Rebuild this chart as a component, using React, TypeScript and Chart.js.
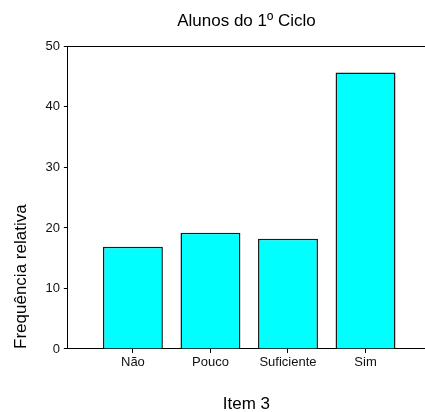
import React, { useEffect, useRef } from "react";
import { Chart, registerables } from "chart.js";

Chart.register(...registerables);

const categories: string[] = ["Não", "Pouco", "Suficiente", "Sim"];
const frequencies: number[] = [16.9, 19.2, 18.2, 45.7];
const yMin = 0;
const yMax = 50;
const yStep = 10;

const FONT = "'Liberation Sans', Arial, Helvetica, sans-serif";

const topLinePlugin = {
  id: "topLine",
  afterDraw(chart: any) {
    const { ctx, chartArea } = chart;
    ctx.save();
    ctx.strokeStyle = "#000";
    ctx.lineWidth = 1;
    ctx.beginPath();
    ctx.moveTo(chartArea.left, Math.round(chartArea.top) + 0.5);
    ctx.lineTo(chartArea.right, Math.round(chartArea.top) + 0.5);
    ctx.stroke();
    ctx.restore();
  },
};

export default function App() {
  const ref = useRef<HTMLCanvasElement | null>(null);

  useEffect(() => {
    document.body.style.margin = "0";
    if (!ref.current) return;
    const chart = new Chart(ref.current, {
      type: "bar",
      data: {
        datasets: [
          {
            data: frequencies.map((v, i) => ({ x: i + 1, y: v })),
            backgroundColor: "#00FFFF",
            borderColor: "#1a1a1a",
            borderWidth: 1.5,
            categoryPercentage: 1,
            barPercentage: 0.773,
          } as any,
        ],
      },
      options: {
        responsive: false,
        animation: false,
        devicePixelRatio: 1,
        layout: { padding: 0 },
        plugins: {
          legend: { display: false },
          tooltip: { enabled: false },
          title: {
            display: true,
            text: "Alunos do 1º Ciclo",
            color: "#000",
            fullSize: false,
            font: { family: FONT, size: 17, weight: "normal", lineHeight: 1.2 },
            padding: { top: 11, bottom: 15 },
          },
        },
        scales: {
          x: {
            type: "linear",
            offset: false,
            min: 0.161,
            max: 4.767,
            afterBuildTicks: (scale: any) => {
              scale.ticks = categories.map((_, i) => ({ value: i + 1 }));
            },
            ticks: {
              autoSkip: false,
              maxRotation: 0,
              padding: 2,
              color: "#111",
              font: { family: FONT, size: 13 },
              callback: (v: any) => categories[Math.round(Number(v)) - 1] ?? "",
            },
            grid: {
              display: true,
              offset: false,
              drawOnChartArea: false,
              drawTicks: true,
              tickLength: 4,
              color: "#000",
            },
            border: { display: true, color: "#000", width: 1 },
            title: {
              display: true,
              text: "Item 3",
              color: "#000",
              font: { family: FONT, size: 17, lineHeight: 0.85 },
              padding: { top: 25, bottom: 0 },
            },
          },
          y: {
            type: "linear",
            min: yMin,
            max: yMax,
            ticks: {
              stepSize: yStep,
              padding: 4,
              color: "#111",
              font: { family: FONT, size: 13 },
            },
            grid: {
              display: true,
              drawOnChartArea: false,
              drawTicks: true,
              tickLength: 4,
              color: "#000",
            },
            border: { display: true, color: "#000", width: 1 },
            title: {
              display: true,
              text: "Frequência relativa",
              align: "start",
              color: "#000",
              font: { family: FONT, size: 17, lineHeight: 1.2 },
              padding: { top: 11, bottom: 10 },
            },
          },
        },
      } as any,
      plugins: [topLinePlugin],
    });
    return () => chart.destroy();
  }, []);

  return (
    <div style={{ width: 425, height: 412 }}>
      <canvas ref={ref} width={425} height={412} style={{ display: "block" }} />
    </div>
  );
}
